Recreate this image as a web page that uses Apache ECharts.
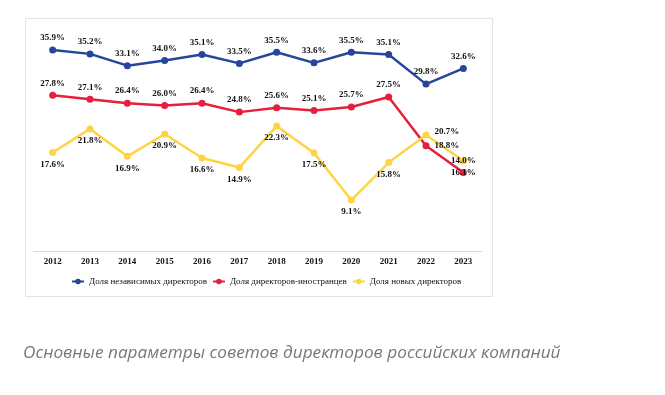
<!DOCTYPE html>
<html><head><meta charset="utf-8">
<script src="https://cdn.jsdelivr.net/npm/echarts@6/dist/echarts.min.js"></script>
<style>html,body{margin:0;padding:0;background:#fff}#c{width:665px;height:395px}</style>
</head><body><div id="c"></div>
<script>
const years = ['2012','2013','2014','2015','2016','2017','2018','2019','2020','2021','2022','2023'];
const independent = [35.9, 35.2, 33.1, 34.0, 35.1, 33.5, 35.5, 33.6, 35.5, 35.1, 29.8, 32.6];
const foreign = [27.8, 27.1, 26.4, 26.0, 26.4, 24.8, 25.6, 25.1, 25.7, 27.5, 18.8, 14.0];
const newDirs = [17.6, 21.8, 16.9, 20.9, 16.6, 14.9, 22.3, 17.5, 9.1, 15.8, 20.7, 16.1];
const seriesNames = ['Доля независимых директоров', 'Доля директоров-иностранцев', 'Доля новых директоров'];
const caption = 'Основные параметры советов директоров российских компаний';

const chart = echarts.init(document.getElementById('c'), null, {renderer: 'canvas'});
const lblFont = {fontFamily: '"Liberation Serif","Times New Roman",serif', fontSize: 9, fontWeight: 'bold', color: '#111'};
function fmt(p){ return p.value.toFixed(1) + '%'; }
function withLabels(arr, overrides){
  return arr.map((v, i) => {
    const o = overrides[i];
    return o ? {value: v, label: o} : {value: v};
  });
}
function mk(name, arr, color, defPos, overrides){
  return {
    name, type: 'line', data: withLabels(arr, overrides),
    symbol: 'circle', symbolSize: 7,
    lineStyle: {width: 2.5, color}, itemStyle: {color},
    label: Object.assign({show: true, position: defPos, distance: 4, formatter: fmt}, lblFont),
    emphasis: {disabled: true}, animation: false
  };
}
chart.setOption({
  animation: false,
  graphic: [
    {type: 'rect', shape: {x: 25.5, y: 18.5, width: 467, height: 278}, style: {fill: 'none', stroke: '#e3e3e3', lineWidth: 1}, z: -1},
    {type: 'text', left: 23, top: 345, style: {text: caption, fill: '#777', font: 'italic 17.2px "Open Sans", sans-serif'}}
  ],
  grid: {left: 34, right: 183, top: 27, bottom: 144},
  legend: {
    left: 66, top: 272, itemGap: 5, itemWidth: 12, itemHeight: 7,
    textStyle: {fontFamily: '"Liberation Serif","Times New Roman",serif', fontSize: 9, color: '#111'},
    data: seriesNames
  },
  xAxis: {
    type: 'category', data: years, boundaryGap: true,
    axisLine: {lineStyle: {color: '#d9d9d9', width: 1}}, axisTick: {show: false},
    axisLabel: Object.assign({margin: 6}, lblFont)
  },
  yAxis: {type: 'value', min: 0, max: 40, show: false, splitLine: {show: false}},
  series: [
    mk(seriesNames[0], independent, '#25469b', 'top', {}),
    mk(seriesNames[1], foreign, '#e51f3c', 'top', {10: {position: 'right', distance: 5}, 11: {position: 'top'}}),
    mk(seriesNames[2], newDirs, '#ffd444', 'bottom', {10: {position: 'right', distance: 5, offset: [0, -3]}, 11: {position: 'bottom'}})
  ]
});
</script></body></html>
